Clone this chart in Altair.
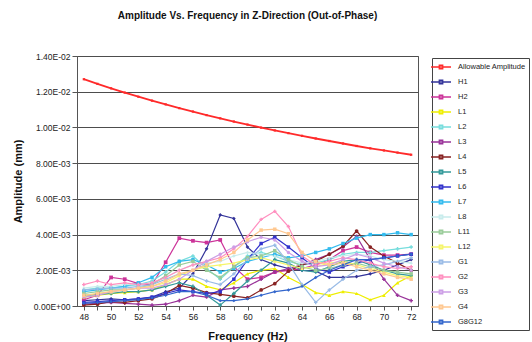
import altair as alt
import pandas as pd

freq = list(range(48, 73))

# amplitudes in units of 1e-3 mm
allowable = [12.70, 12.44, 12.19, 11.95, 11.72, 11.50, 11.29, 11.08, 10.89, 10.69, 10.51, 10.33,
             10.16, 9.99, 9.83, 9.68, 9.53, 9.38, 9.24, 9.10, 8.96, 8.83, 8.71, 8.59, 8.47]
h1 = [0.3, 0.35, 0.4, 0.35, 0.4, 0.5, 0.8, 1.0, 1.8, 3.2, 5.1, 4.9, 3.3, 2.6, 2.3, 2.1, 2.0, 1.95, 1.6, 1.6, 1.65, 1.8, 2.0, 2.3, 2.6]
h2 = [0.35, 0.6, 1.6, 1.5, 1.25, 1.2, 2.45, 3.8, 3.65, 3.55, 3.7, 2.2, 1.5, 1.6, 1.9, 2.0, 2.1, 2.3, 2.6, 3.1, 3.3, 3.0, 2.85, 2.85, 2.9]
l1 = [0.5, 0.6, 0.7, 0.75, 0.8, 0.9, 1.2, 1.5, 1.5, 1.1, 0.9, 1.3, 1.8, 2.0, 2.1, 1.6, 1.2, 0.75, 0.6, 0.8, 0.7, 0.35, 0.6, 1.3, 1.7]
l2 = [0.9, 1.0, 1.0, 1.1, 1.2, 1.4, 1.9, 2.5, 2.8, 2.1, 1.5, 2.2, 2.8, 3.0, 2.8, 2.5, 2.3, 2.4, 2.6, 2.9, 3.0, 3.0, 3.1, 3.2, 3.3]
l3 = [0.1, 0.15, 0.2, 0.15, 0.1, 0.05, 0.1, 0.3, 0.6, 0.5, 0.9, 1.0, 1.1, 1.5, 1.9, 2.1, 2.3, 2.6, 2.9, 3.3, 3.9, 2.6, 1.5, 0.6, 0.3]
l4 = [0.05, 0.1, 0.25, 0.2, 0.3, 0.4, 0.7, 1.15, 1.0, 0.75, 0.65, 0.55, 0.45, 0.9, 1.25, 1.95, 2.3, 2.5, 2.9, 3.35, 4.2, 3.3, 2.8, 2.4, 2.0]
l5 = [0.6, 0.65, 0.7, 0.8, 0.8, 0.9, 1.1, 1.3, 1.1, 0.6, 0.05, 0.7, 1.4, 2.0, 2.6, 2.4, 2.0, 1.9, 2.2, 2.5, 2.6, 2.3, 2.0, 1.8, 1.7]
l6 = [0.2, 0.25, 0.3, 0.35, 0.4, 0.5, 0.7, 0.9, 0.8, 0.7, 0.8, 1.5, 2.6, 3.5, 3.85, 3.3, 2.7, 2.1, 1.9, 2.2, 2.4, 2.6, 2.7, 2.8, 2.9]
l7 = [0.8, 0.9, 1.0, 1.1, 1.3, 1.6, 2.2, 2.5, 2.6, 2.3, 1.9, 2.1, 2.5, 2.7, 2.9, 2.7, 2.8, 3.0, 3.2, 3.5, 3.8, 4.0, 4.0, 4.1, 4.0]
l8 = [1.0, 1.1, 1.1, 1.2, 1.2, 1.3, 1.6, 2.0, 2.3, 2.4, 2.5, 2.8, 3.0, 2.9, 2.8, 2.6, 2.4, 2.5, 2.7, 2.8, 2.9, 2.8, 2.6, 2.5, 2.4]
l11 = [0.7, 0.8, 0.9, 0.9, 1.0, 1.2, 1.7, 2.3, 2.5, 2.0, 1.6, 2.2, 2.7, 2.8, 3.1, 2.6, 2.2, 2.0, 2.1, 2.3, 2.4, 2.2, 2.0, 1.9, 1.8]
l12 = [0.6, 0.7, 0.8, 0.9, 1.0, 1.1, 1.3, 1.7, 2.0, 2.2, 2.3, 2.4, 2.6, 2.7, 2.5, 2.3, 2.1, 2.2, 2.4, 2.5, 2.3, 2.1, 1.9, 1.7, 1.6]
g1 = [0.9, 0.95, 1.0, 1.0, 1.1, 1.2, 1.5, 1.8, 1.7, 1.4, 1.2, 1.8, 2.6, 3.2, 3.4, 2.4, 1.2, 0.2, 0.9, 1.5, 2.0, 2.2, 2.3, 2.5, 2.7]
g2 = [1.2, 1.4, 1.2, 1.3, 1.2, 1.3, 1.6, 2.0, 2.3, 2.5, 2.7, 3.2, 3.9, 4.85, 5.3, 4.45, 2.8, 2.3, 2.5, 2.7, 2.6, 2.4, 2.2, 2.1, 2.2]
g3 = [0.5, 0.6, 0.8, 0.9, 1.0, 1.0, 1.2, 1.5, 2.0, 2.5, 2.9, 3.3, 3.6, 3.85, 3.7, 3.0, 2.5, 2.2, 2.3, 2.6, 2.9, 2.7, 2.4, 2.2, 2.0]
g4 = [0.6, 0.7, 0.8, 0.9, 1.0, 1.1, 1.4, 1.8, 2.0, 2.3, 2.6, 3.0, 3.7, 4.25, 4.3, 4.05, 3.0, 2.5, 2.3, 2.4, 2.2, 2.0, 1.8, 1.6, 1.5]
g8g12 = [0.15, 0.2, 0.25, 0.3, 0.35, 0.45, 0.6, 0.8, 0.8, 0.6, 0.3, 0.3, 0.4, 0.6, 0.8, 0.9, 1.1, 1.6, 2.0, 2.3, 2.6, 2.6, 2.7, 2.8, 2.9]

series_names = ["Allowable Amplitude", "H1", "H2", "L1", "L2", "L3", "L4", "L5", "L6",
                "L7", "L8", "L11", "L12", "G1", "G2", "G3", "G4", "G8G12"]
series_values = [allowable, h1, h2, l1, l2, l3, l4, l5, l6, l7, l8, l11, l12, g1, g2, g3, g4, g8g12]
colors = ["#FF2A2A", "#333399", "#CC3399", "#EEEE00", "#77DDDD", "#993399", "#882222", "#339999",
          "#3333CC", "#33BBEE", "#C8ECEC", "#99CC99", "#F5F56A", "#99BBE6", "#FF8FBF", "#CC9EE6",
          "#FFC890", "#3366CC"]
shapes = ["square", "diamond", "square", "triangle-up", "cross", "cross", "circle", "cross", "square",
          "square", "diamond", "square", "triangle-up", "cross", "cross", "circle", "square", "diamond"]
marker_sizes = [5, 14, 14, 14, 13, 13, 14, 13, 12, 12, 12, 12, 12, 12, 12, 12, 12, 12]
y_ticks = [0, 0.002, 0.004, 0.006, 0.008, 0.010, 0.012, 0.014]

rows = []
for order, (name, vals) in enumerate(zip(series_names, series_values)):
    for f, v in zip(freq, vals):
        rows.append({"Frequency": f, "Amplitude": v / 1000.0, "Series": name, "order": order})
df = pd.DataFrame(rows)

FONT = "Arial, Liberation Sans, sans-serif"

x_enc = alt.X(
    "Frequency:Q",
    scale=alt.Scale(domain=[47.5, 72.5], nice=False, zero=False),
    axis=alt.Axis(
        values=freq,
        labelExpr="datum.value % 2 == 0 ? toString(datum.value) : ''",
        labelOverlap=False,
        grid=False,
        tickSize=4,
        tickColor="#555555",
        domainColor="#555555",
        labelFontSize=8.5,
        labelColor="#222222",
        labelFont=FONT,
        title="Frequency (Hz)",
        titleFontSize=11,
        titleFontWeight="bold",
        titleFont=FONT,
        titleColor="#111111",
        titlePadding=10,
    ),
)
y_enc = alt.Y(
    "Amplitude:Q",
    scale=alt.Scale(domain=[0, 0.014], nice=False),
    axis=alt.Axis(
        values=y_ticks,
        labelExpr="replace(replace(format(datum.value, '.2e'), 'e-', 'E-0'), 'e+', 'E+0')",
        grid=True,
        gridColor="#4d4d4d",
        gridWidth=1,
        tickSize=5,
        tickColor="#555555",
        domainColor="#555555",
        labelFontSize=8.5,
        labelColor="#222222",
        labelFont=FONT,
        labelPadding=2,
        title="Amplitude (mm)",
        titleFontSize=11,
        titleFontWeight="bold",
        titleFont=FONT,
        titleColor="#111111",
        titlePadding=10,
    ),
)

lines = alt.Chart(df).mark_line().encode(
    x=x_enc,
    y=y_enc,
    color=alt.Color(
        "Series:N",
        scale=alt.Scale(domain=series_names, range=colors),
        sort=series_names,
        legend=alt.Legend(
            orient="none",
            legendX=355,
            legendY=2,
            title=None,
            symbolType="M-2,0H2M-0.35,-0.35H0.35V0.35H-0.35Z",
            symbolSize=100,
            symbolStrokeWidth=1.3,
            labelFontSize=7.5,
            labelFont=FONT,
            labelColor="#222222",
            labelOffset=11,
            labelLimit=120,
            rowPadding=4,
            padding=3,
            strokeColor="#444444",
            fillColor="white",
        ),
    ),
    strokeWidth=alt.condition(alt.datum.Series == "Allowable Amplitude", alt.value(1.8), alt.value(1.2)),
    order="order:Q",
)

point_layers = []
for name, col, shp, ms in zip(series_names, colors, shapes, marker_sizes):
    point_layers.append(
        alt.Chart(df)
        .transform_filter(alt.datum.Series == name)
        .mark_point(filled=True, opacity=1, shape=shp, size=ms, color=col)
        .encode(x=x_enc, y=y_enc)
    )

chart = alt.layer(lines, *point_layers).properties(
    width=341,
    height=250,
    padding={"left": 77, "top": 56, "right": 114, "bottom": 36},
    autosize=alt.AutoSizeParams(type="none"),
    background="white",
    title=alt.TitleParams(
        "Amplitude Vs. Frequency in Z-Direction (Out-of-Phase)",
        fontSize=10,
        fontWeight="bold",
        font=FONT,
        color="#111111",
        anchor="middle",
        offset=31,
    ),
).configure_view(stroke="#555555", strokeWidth=1)

chart.save("out.html", embed_options={"renderer": "svg", "actions": False})
